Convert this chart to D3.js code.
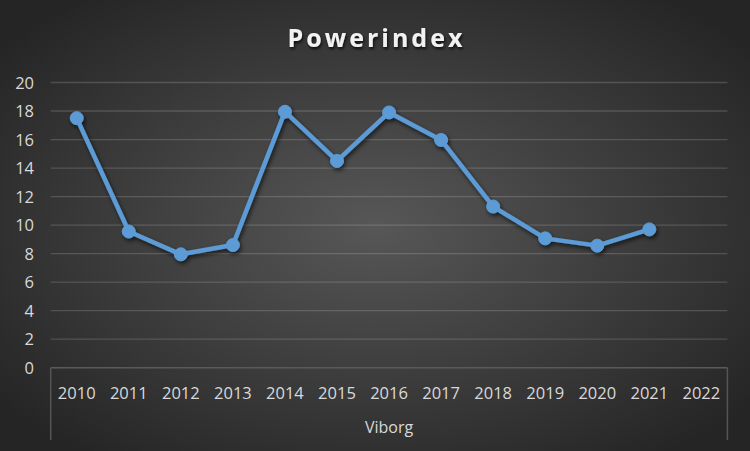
<!DOCTYPE html>
<html><head><meta charset="utf-8">
<script src="https://cdn.jsdelivr.net/npm/d3@7"></script>
<style>html,body{margin:0;padding:0;background:#2a2a2a;}svg{display:block;}</style>
</head><body>
<svg id="c" width="750" height="451"></svg>
<script>
const categories = ["2010","2011","2012","2013","2014","2015","2016","2017","2018","2019","2020","2021","2022"];
const values = [17.5, 9.55, 7.95, 8.6, 17.95, 14.5, 17.9, 15.97, 11.3, 9.07, 8.56, 9.7, null];
const yTicks = [0,2,4,6,8,10,12,14,16,18,20];
const groupLabel = "Viborg";
const title = "Powerindex";

const W = 750, H = 451;
const FONT = "Open Sans, Liberation Sans, Arial, sans-serif";
const m = {left: 50.7, right: 750-727.4, top: 82.5, bottom: 451-367.7};
const svg = d3.select("#c");
const defs = svg.append("defs");
const rg = defs.append("radialGradient").attr("id","bg").attr("cx","50%").attr("cy","50%").attr("r","64%");
rg.append("stop").attr("offset","0%").attr("stop-color","#575757");
rg.append("stop").attr("offset","100%").attr("stop-color","#252525");
const sh = defs.append("filter").attr("id","sh").attr("x","-10%").attr("y","-10%").attr("width","130%").attr("height","130%");
sh.append("feDropShadow").attr("dx",1.5).attr("dy",2.5).attr("stdDeviation",2).attr("flood-color","#000").attr("flood-opacity",0.65);
const tsh = defs.append("filter").attr("id","tsh").attr("x","-10%").attr("y","-30%").attr("width","130%").attr("height","170%");
tsh.append("feDropShadow").attr("dx",1).attr("dy",2).attr("stdDeviation",1.5).attr("flood-color","#000").attr("flood-opacity",0.8);

svg.append("rect").attr("width",W).attr("height",H).attr("fill","url(#bg)");

const x = d3.scaleBand().domain(categories).range([m.left, W-m.right]).padding(0);
const y = d3.scaleLinear().domain([0,20]).range([H-m.bottom, m.top]);

// gridlines
svg.append("g").selectAll("line").data(yTicks.filter(d=>d>0)).join("line")
  .attr("x1", m.left).attr("x2", W-m.right)
  .attr("y1", d=>y(d)).attr("y2", d=>y(d))
  .attr("stroke","rgba(255,255,255,0.16)").attr("stroke-width",1.3);

// y axis labels
const yAxis = d3.axisLeft(y).tickValues(yTicks).tickSize(0).tickPadding(0);
const ya = svg.append("g").attr("transform",`translate(34,0)`).call(yAxis);
ya.select(".domain").remove();
ya.selectAll("text").attr("fill","#d9d9d9").attr("font-family",FONT).attr("font-size",16.5).attr("dx",0).attr("dy","0.35em").attr("x",0);

// category axis
const axY = y(0);
svg.append("line").attr("x1",m.left).attr("x2",W-m.right).attr("y1",axY).attr("y2",axY).attr("stroke","#5a5a5a").attr("stroke-width",1.5);
svg.append("line").attr("x1",m.left).attr("x2",m.left).attr("y1",axY).attr("y2",440).attr("stroke","#555").attr("stroke-width",1.5);
svg.append("line").attr("x1",W-m.right).attr("x2",W-m.right).attr("y1",axY).attr("y2",440).attr("stroke","#555").attr("stroke-width",1.5);
const xAxis = d3.axisBottom(x).tickSize(0).tickPadding(0);
const xa = svg.append("g").attr("transform",`translate(0,${axY})`).call(xAxis);
xa.select(".domain").remove();
xa.selectAll("text").attr("fill","#d9d9d9").attr("font-family",FONT).attr("font-size",16.5).attr("y",31).attr("dy",0);
svg.append("text").attr("x",(m.left+W-m.right)/2).attr("y",433).attr("text-anchor","middle")
  .attr("fill","#d9d9d9").attr("font-family",FONT).attr("font-size",16).text(groupLabel);

// line
const pts = categories.map((c,i)=>({c, v: values[i]})).filter(d=>d.v!=null);
const line = d3.line().x(d=>x(d.c)+x.bandwidth()/2).y(d=>y(d.v));
const g = svg.append("g").attr("filter","url(#sh)");
g.append("path").datum(pts).attr("d",line).attr("fill","none").attr("stroke","#5b9bd5").attr("stroke-width",4.5).attr("stroke-linejoin","round");
g.selectAll("circle").data(pts).join("circle")
  .attr("cx", d=>x(d.c)+x.bandwidth()/2).attr("cy", d=>y(d.v)).attr("r",6.5)
  .attr("fill","#5b9bd5").attr("stroke","#5b9bd5").attr("stroke-width",1);

// title
svg.append("text").attr("x",376.5).attr("y",47).attr("text-anchor","middle")
  .attr("fill","#f2f2f2").attr("font-family",FONT).attr("font-weight","bold")
  .attr("font-size",25).attr("letter-spacing","3px").attr("filter","url(#tsh)").text(title);
</script>
</body></html>
